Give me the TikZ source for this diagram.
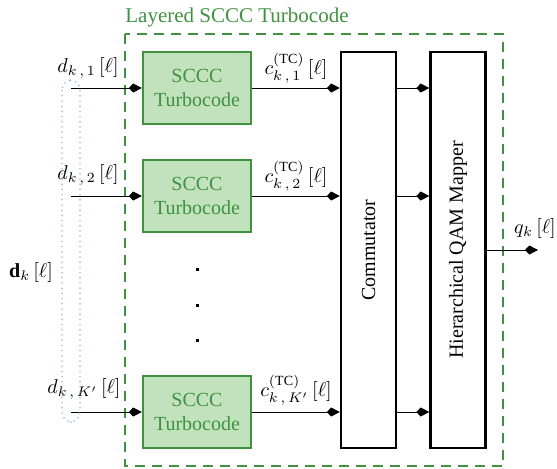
\documentclass[tikz,border=0pt]{standalone}
\usepackage{amsmath,amssymb,bm}
\usepackage{fontspec}
\setmainfont{Liberation Serif}
\usetikzlibrary{arrows.meta,positioning,calc}
\definecolor{tcgreen}{RGB}{64,145,64}
\definecolor{tcfill}{RGB}{194,226,190}
\definecolor{dotblue}{RGB}{120,180,230}

\begin{document}
\begin{tikzpicture}[x=0.5pt,y=-0.5pt,
  tcbox/.style={draw=tcgreen,fill=tcfill,line width=1.2pt,text=tcgreen,
    minimum width=54pt,minimum height=36pt,align=center,inner sep=0pt},
  blk/.style={draw,line width=1.2pt,minimum width=27.5pt,minimum height=198pt,inner sep=0pt},
  sig/.style={-{Kite[length=6.5pt,width=4.5pt,inset=2.2pt]},line width=0.5pt}]
  \useasboundingbox (0,0) rectangle (557,468);

  % outer frame
  \draw[tcgreen,line width=0.6pt,dash pattern=on 5pt off 3.5pt] (125,34) rectangle (503,466);
  \node[text=tcgreen,font=\fontsize{10.5}{12}\selectfont] (title) at (237,17) {Layered SCCC Turbocode};

  % encoders
  \node[tcbox] (tc1) at (197,88) {SCCC\\Turbocode};
  \node[tcbox] (tc2) at (197,196) {SCCC\\Turbocode};
  \node[tcbox] (tc3) at (197,412) {SCCC\\Turbocode};
  \foreach \y in {268,304,339} {\fill (196,\y) rectangle ++(3,3);}

  \node[blk] (comm) at (368.5,250) {\rotatebox{90}{Commutator}};
  \node[blk] (map) at (458,250) {\rotatebox{90}{Hierarchical QAM Mapper}};

  % inputs
  \coordinate (in1) at (71,88);
  \coordinate (in2) at (71,196);
  \coordinate (in3) at (71,412);
  \draw[sig] (in1) -- (tc1.west);
  \draw[sig] (in2) -- (tc2.west);
  \draw[sig] (in3) -- (tc3.west);
  \node (d1) at (88,68) {$d_{k\,,\,1}\,[\ell]$};
  \node (d2) at (88,175) {$d_{k\,,\,2}\,[\ell]$};
  \node (d3) at (84,389) {$d_{k\,,\,K'}\,[\ell]$};
  \draw[dotblue,dotted,line width=0.6pt,rounded corners=5pt] (62,80) rectangle (80,422);
  \node (dvec) at (31,272) {$\mathbf{d}_k\,[\ell]$};

  % coded streams
  \draw[sig] (tc1.east) -- (tc1.east -| comm.west);
  \draw[sig] (tc2.east) -- (tc2.east -| comm.west);
  \draw[sig] (tc3.east) -- (tc3.east -| comm.west);
  \node (c1) at (296,68) {$c_{k\,,\,1}^{(\mathrm{TC})}\,[\ell]$};
  \node (c2) at (296,176) {$c_{k\,,\,2}^{(\mathrm{TC})}\,[\ell]$};
  \node (c3) at (296,390) {$c_{k\,,\,K'}^{(\mathrm{TC})}\,[\ell]$};

  \draw[sig] (comm.east |- tc1) -- (map.west |- tc1);
  \draw[sig] (comm.east |- tc2) -- (map.west |- tc2);
  \draw[sig] (comm.east |- tc3) -- (map.west |- tc3);

  % output
  \coordinate (qout) at (538,250);
  \draw[sig] (map.east) -- (qout);
  \node (q) at (535,228) {$q_k\,[\ell]$};
\end{tikzpicture}
\end{document}
